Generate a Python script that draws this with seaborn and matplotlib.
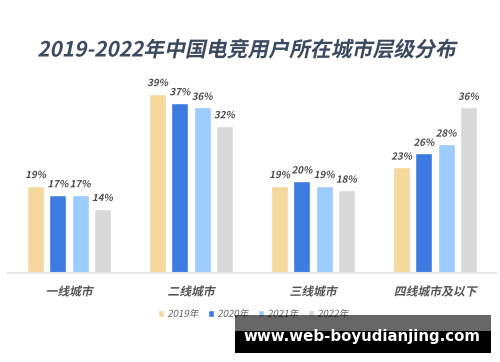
import matplotlib
matplotlib.use("Agg")
import matplotlib.pyplot as plt
import matplotlib.patheffects as pe
from matplotlib.transforms import Affine2D
from matplotlib.patches import Rectangle
import seaborn as sns
import pandas as pd

categories = ["一线城市", "二线城市", "三线城市", "四线城市及以下"]
years = ["2019年", "2020年", "2021年", "2022年"]
v2019 = [19, 39, 19, 23]
v2020 = [17, 37, 20, 26]
v2021 = [17, 36, 19, 28]
v2022 = [14, 32, 18, 36]
colors = ["#f5d89d", "#3e7be0", "#9ccbfd", "#d9d9d9"]

series = [v2019, v2020, v2021, v2022]
rows = []
for y, vals in zip(years, series):
    for c, v in zip(categories, vals):
        rows.append({"city": c, "year": y, "value": v})
df = pd.DataFrame(rows)

sns.set_theme(style="white")
plt.rcParams['font.family'] = ['Noto Sans CJK SC', 'DejaVu Sans']


class Skew(pe.AbstractPathEffect):
    def __init__(self, deg=12):
        super().__init__()
        self.deg = deg

    def draw_path(self, renderer, gc, tpath, affine, rgbFace=None):
        renderer.draw_path(gc, tpath, Affine2D().skew_deg(self.deg, 0) + affine, rgbFace)


italic = [Skew(12)]

fig = plt.figure(figsize=(5.0, 3.62), dpi=100)
ax = fig.add_axes([8 / 500, (362 - 273) / 362, 488 / 500, 184 / 362])

sns.barplot(data=df, x="city", y="value", hue="year", palette=colors,
            saturation=1, width=0.73, gap=0.23, ax=ax, legend=True)

ax.set_ylim(0, 40)
ax.set_xlim(-0.5, 3.5)
for s in ["top", "right", "left"]:
    ax.spines[s].set_visible(False)
ax.spines["bottom"].set_color("#e8e8e8")
ax.spines["bottom"].set_linewidth(1.5)
ax.set_yticks([])
ax.set_xlabel("")
ax.set_ylabel("")
ax.tick_params(axis="x", length=0, pad=9)
for t in ax.get_xticklabels():
    t.set_fontsize(8.5)
    t.set_color("#555555")
    t.set_fontweight("semibold")
    t.set_path_effects(italic)

for cont, vals in zip(ax.containers, series):
    labs = ax.bar_label(cont, labels=[f"{v}%" for v in vals], padding=4,
                        fontsize=7, color="#4a4a4a", fontweight="bold")
    for l in labs:
        l.set_path_effects(italic)

leg = ax.legend(loc="center", bbox_to_anchor=(0.503, -41 / 184),
                ncol=4, frameon=False, fontsize=7, handlelength=0.6,
                handleheight=0.6, handletextpad=0.3, columnspacing=1.0)
for t in leg.get_texts():
    t.set_color("#666666")
    t.set_path_effects(italic)

fig.text(0.494, 1 - 50 / 362, "2019-2022年中国电竞用户所在城市层级分布",
         ha="center", va="center", fontsize=15, fontweight="bold",
         color="#3b4a5e", path_effects=italic)

# watermark
fig.patches.append(Rectangle((235 / 500, 1 - 331 / 362), 256 / 500, 16 / 362,
                             transform=fig.transFigure, facecolor="#000000",
                             alpha=0.6, edgecolor="none", zorder=10))
fig.patches.append(Rectangle((235 / 500, 1 - 353 / 362), 256 / 500, 22 / 362,
                             transform=fig.transFigure, facecolor="#000000",
                             edgecolor="none", zorder=10))
fig.text(362 / 500, 1 - 337 / 362, "www.web-boyudianjing.com", ha="center",
         va="center", fontsize=10.8, fontweight="bold", color="white",
         family="DejaVu Sans", zorder=11)

fig.savefig("out.png", dpi=100)
